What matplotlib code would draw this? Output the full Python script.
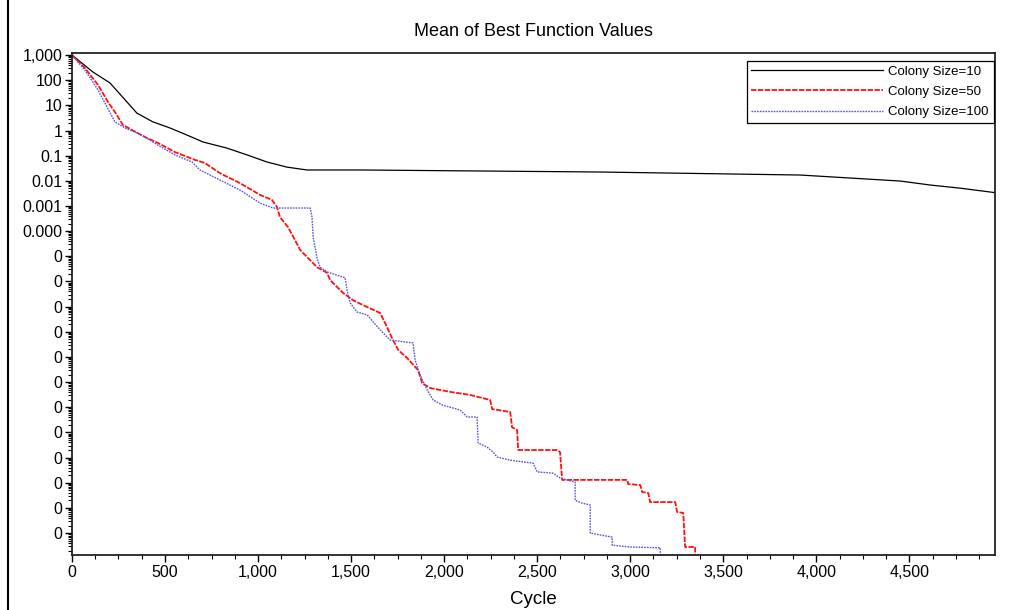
import numpy as np
import matplotlib
matplotlib.use("Agg")
from matplotlib import pyplot as plt
from matplotlib import ticker
from matplotlib.lines import Line2D

plt.rcParams['font.family'] = ['Liberation Sans', 'DejaVu Sans']

# Colony Size=10
cycle_10 = [0, 113, 204, 296, 349, 435, 527, 618, 704, 833, 941, 1048, 1156, 1263,
            1548, 2839, 3914, 4183, 4451, 4613, 4774, 4973]
value_10 = [1000, 210, 78, 13.5, 4.9, 2.2, 1.26, 0.66, 0.35, 0.20, 0.107, 0.056, 0.035, 0.027,
            0.027, 0.0224, 0.017, 0.0129, 0.0098, 0.0068, 0.0051, 0.0033]

# Colony Size=50
cycle_50 = [0, 70, 140, 194, 231, 274, 323, 392, 462, 554, 661, 715, 796, 903, 1011, 1075,
            1102, 1118, 1161, 1199, 1226, 1263, 1317, 1371, 1387, 1425, 1457, 1511, 1564,
            1656, 1693, 1720, 1753, 1801, 1860, 1882, 1925, 2032, 2140, 2247, 2258, 2355,
            2365, 2392, 2398, 2607, 2623, 2634, 2984, 2989, 3054, 3064, 3097, 3107, 3242,
            3252, 3285, 3295, 3349, 3349]
value_50 = [1000, 300, 65, 13.5, 5.4, 1.66, 1.05, 0.55, 0.32, 0.138, 0.068, 0.051, 0.020,
            0.0081, 0.00275, 0.00174, 9.1e-4, 3.6e-4, 1.45e-4, 4.4e-5, 1.8e-5, 9.4e-6,
            3.7e-6, 2.2e-6, 1.15e-6, 6.0e-7, 3.5e-7, 1.8e-7, 1.15e-7, 5.6e-8, 1.55e-8,
            5.6e-9, 1.9e-9, 9.1e-10, 3.0e-10, 9.1e-11, 5.8e-11, 4.1e-11, 3.1e-11, 1.95e-11,
            8.5e-12, 6.5e-12, 1.6e-12, 1.25e-12, 2.0e-13, 2.0e-13, 1.65e-13, 1.3e-14,
            1.3e-14, 8.9e-15, 8.1e-15, 4.3e-15, 3.9e-15, 1.7e-15, 1.7e-15, 6.9e-16,
            6.3e-16, 2.8e-17, 2.8e-17, 1e-18]

# Colony Size=100
cycle_100 = [0, 70, 140, 177, 231, 285, 376, 462, 554, 645, 688, 796, 903, 1011, 1081,
             1280, 1290, 1296, 1317, 1333, 1371, 1468, 1478, 1495, 1532, 1586, 1618, 1656,
             1710, 1833, 1844, 1871, 1909, 1941, 1994, 2086, 2124, 2177, 2183, 2231, 2263,
             2285, 2355, 2478, 2500, 2586, 2623, 2704, 2704, 2742, 2785, 2785, 2903, 2903,
             3000, 3161, 3166]
value_100 = [1000, 250, 41, 12.3, 2.2, 1.26, 0.66, 0.26, 0.107, 0.056, 0.027, 0.0107,
             0.0043, 0.0013, 8.3e-4, 8.3e-4, 3.6e-4, 5.9e-5, 8.5e-6, 3.7e-6, 2.4e-6,
             1.4e-6, 4.6e-7, 1.4e-7, 6.1e-8, 4.7e-8, 2.5e-8, 1.2e-8, 4.7e-9, 3.6e-9,
             7.5e-10, 1.9e-10, 4.9e-11, 1.95e-11, 1.2e-11, 7.8e-12, 4.1e-12, 4.1e-12,
             3.8e-13, 2.6e-13, 1.65e-13, 1.05e-13, 7.9e-14, 6.0e-14, 2.7e-14, 2.4e-14,
             1.55e-14, 1.07e-14, 2.0e-15, 1.55e-15, 1.3e-15, 1.0e-16, 6.9e-17, 3.3e-17,
             2.8e-17, 2.6e-17, 1e-18]

y_ticks = [10.0 ** e for e in range(3, -17, -1)]
y_tick_labels = ['1,000', '100', '10', '1', '0.1', '0.01', '0.001', '0.000'] + ['0'] * 12
x_ticks = [0, 500, 1000, 1500, 2000, 2500, 3000, 3500, 4000, 4500]
x_tick_labels = ['0', '500', '1,000', '1,500', '2,000', '2,500', '3,000', '3,500', '4,000', '4,500']

fig = plt.figure(figsize=(10.25, 6.10), dpi=100)
ax = fig.add_axes([0.0702, 0.0902, 0.9005, 0.8229])

ax.plot(cycle_10, value_10, color='black', lw=0.9, label='Colony Size=10')
ax.plot(cycle_50, value_50, color='#ff1010', lw=1.3, ls=(0, (3, 0.8)), label='Colony Size=50')
ax.plot(cycle_100, value_100, color='#5555dd', lw=1.0, ls=(0, (1.2, 0.8)), label='Colony Size=100')

ax.set_yscale('log')
ax.set_ylim(10 ** -16.87, 10 ** 3.08)
ax.set_xlim(0, 4960)

ax.set_yticks(y_ticks)
ax.set_yticklabels(y_tick_labels)
ax.yaxis.set_minor_locator(ticker.LogLocator(base=10, subs=np.arange(2, 10), numticks=40))
ax.yaxis.set_minor_formatter(ticker.NullFormatter())
ax.set_xticks(x_ticks)
ax.set_xticklabels(x_tick_labels)
ax.xaxis.set_minor_locator(ticker.MultipleLocator(125))

ax.tick_params(axis='both', which='major', direction='out', length=5, width=1, labelsize=11.5, pad=2)
ax.tick_params(axis='both', which='minor', direction='out', length=3, width=0.8)
ax.tick_params(top=False, right=False)
for s in ax.spines.values():
    s.set_linewidth(1.3)
    s.set_color('#222222')

ax.set_title('Mean of Best Function Values', fontsize=13, pad=12)
ax.set_xlabel('Cycle', fontsize=13.5, labelpad=8)

leg = ax.legend(loc='upper right', bbox_to_anchor=(0.9985, 0.984), fontsize=9.5,
                handlelength=10, fancybox=False, edgecolor='black', framealpha=1,
                borderpad=0.35, labelspacing=0.6, handletextpad=0.4, borderaxespad=0)
leg.get_frame().set_linewidth(0.9)

# left edge of the page frame
fig.lines.append(Line2D([8 / 1025, 8 / 1025], [0, 1], transform=fig.transFigure,
                        color='black', lw=1.5))

fig.savefig('out.png', dpi=100)
